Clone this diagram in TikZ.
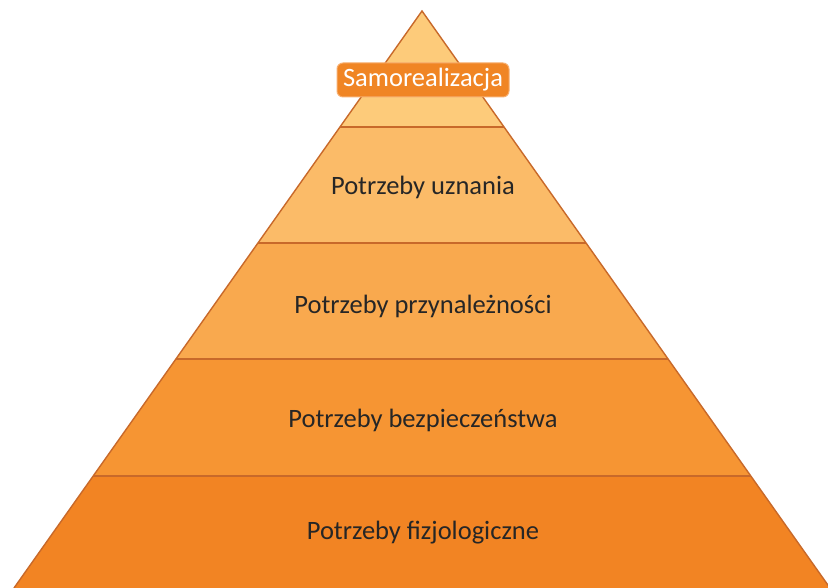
\documentclass[tikz,border=0pt]{standalone}
\usepackage{fontspec}
\setmainfont{Carlito}
\usetikzlibrary{calc}

\definecolor{layerA}{HTML}{FDCB7A}
\definecolor{layerB}{HTML}{FBBB68}
\definecolor{layerC}{HTML}{F9A94E}
\definecolor{layerD}{HTML}{F69533}
\definecolor{layerE}{HTML}{F28423}
\definecolor{edgebrown}{HTML}{C8692A}
\definecolor{textgray}{HTML}{262626}
\definecolor{badgefill}{HTML}{F08524}
\definecolor{badgeline}{HTML}{F7AE6E}

\begin{document}
\begin{tikzpicture}[x=1pt,y=1pt,
  edge/.style={edgebrown, line width=1.4pt},
  divider/.style={edgebrown, line width=1.8pt},
  layertext/.style={text=textgray, font=\fontsize{26.5}{30}\selectfont},
  badge/.style={fill=badgefill, draw=badgeline, line width=1pt, rounded corners=6pt,
    text=white, font=\fontsize{26.5}{30}\selectfont, minimum width=172pt, minimum height=34pt, inner sep=0pt}]
  \useasboundingbox (0,0) rectangle (828,588);
  \coordinate (apex) at (422,577);
  \coordinate (baseL) at (14,0);
  \coordinate (baseR) at (830,0);
  % layers, top to bottom
  \foreach \col/\tA/\tB in {layerA/0/0.201,layerB/0.201/0.402,layerC/0.402/0.603,
                            layerD/0.603/0.806,layerE/0.806/1}
    \fill[\col] ($(apex)!\tA!(baseL)$) -- ($(apex)!\tB!(baseL)$)
      -- ($(apex)!\tB!(baseR)$) -- ($(apex)!\tA!(baseR)$) -- cycle;
  \foreach \t in {0.201,0.402,0.603,0.806}
    \draw[divider] ($(apex)!\t!(baseL)$) -- ($(apex)!\t!(baseR)$);
  \draw[edge] (baseL) -- (apex) -- (baseR);
  % labels
  \node[badge] (self) at (423,508) {Samorealizacja};
  \node[layertext] (esteem) at (423,401) {Potrzeby uznania};
  \node[layertext] (belong) at (423,282) {Potrzeby przynależności};
  \node[layertext] (safety) at (423,168) {Potrzeby bezpieczeństwa};
  \node[layertext] (physio) at (423,55) {Potrzeby fizjologiczne};
\end{tikzpicture}
\end{document}
